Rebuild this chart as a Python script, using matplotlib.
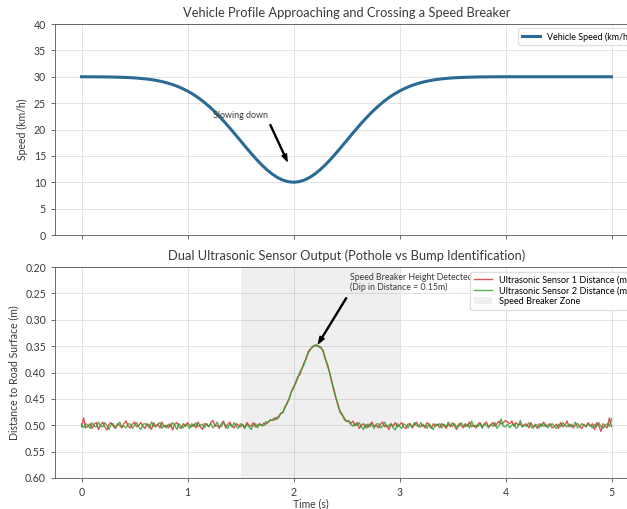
import matplotlib
matplotlib.use("Agg")
import matplotlib.pyplot as plt
import numpy as np

plt.rcParams['font.family'] = ['Lato', 'DejaVu Sans']

# ---------------- data ----------------
speed_time = [round(0.05 * i, 2) for i in range(101)]
speed_kmh = [
    30.00, 29.99, 29.99, 29.98, 29.97, 29.96, 29.94, 29.91, 29.88, 29.84,
    29.78, 29.70, 29.60, 29.48, 29.32, 29.12, 28.88, 28.58, 28.22, 27.79,
    27.29, 26.71, 26.04, 25.29, 24.44, 23.51, 22.49, 21.41, 20.26, 19.08,
    17.87, 16.66, 15.48, 14.35, 13.29, 12.35, 11.54, 10.88, 10.40, 10.10,
    10.00,
    10.10, 10.40, 10.88, 11.54, 12.35, 13.29, 14.35, 15.48, 16.66, 17.87,
    19.08, 20.26, 21.41, 22.49, 23.51, 24.44, 25.29, 26.04, 26.71, 27.29,
    27.79, 28.22, 28.58, 28.88, 29.12, 29.32, 29.48, 29.60, 29.70, 29.78,
    29.84, 29.88, 29.91, 29.94, 29.96, 29.97, 29.98, 29.99, 29.99, 30.00,
    30.00, 30.00, 30.00, 30.00, 30.00, 30.00, 30.00, 30.00, 30.00, 30.00,
    30.00, 30.00, 30.00, 30.00, 30.00, 30.00, 30.00, 30.00, 30.00, 30.00]

sensor_time = [round(0.02 * i, 2) for i in range(251)]

sensor1_mm = [
    503, 486, 505, 502, 497, 506, 498, 495, 508, 500,
    494, 503, 509, 498, 495, 502, 506, 497, 500, 505,
    497, 492, 502, 505, 498, 494, 503, 500, 495, 502,
    506, 497, 500, 508, 495, 502, 498, 505, 494, 503,
    500, 505, 497, 509, 498, 495, 503, 506, 497, 502,
    495, 500, 503, 498, 505, 494, 502, 508, 497, 498,
    503, 495, 491, 502, 500, 506, 497, 492, 505, 498,
    494, 502, 505, 497, 500, 503, 498, 506, 495, 500,
    502, 495, 503, 500, 497, 501, 496, 498, 494, 490,
    491, 486, 489, 483, 478, 476, 464, 459, 449, 436,
    430, 419, 408, 404, 393, 381, 374, 360, 355, 352,
    348, 350, 350, 352, 361, 375, 384, 400, 418, 430,
    449, 460, 476, 481, 486, 493, 491, 497, 492, 501,
    495, 506, 500, 497, 505, 498, 503, 494, 502, 500,
    505, 498, 494, 503, 500, 508, 497, 502, 495, 503,
    500, 495, 503, 506, 498, 497, 505, 500, 494, 502,
    503, 498, 505, 495, 500, 506, 497, 502, 498, 505,
    497, 500, 506, 498, 503, 495, 502, 508, 497, 500,
    505, 497, 502, 494, 503, 500, 505, 498, 495, 503,
    498, 494, 503, 500, 495, 502, 497, 492, 498, 495,
    491, 494, 497, 492, 502, 495, 500, 497, 503, 498,
    498, 505, 495, 503, 500, 506, 497, 502, 494, 503,
    500, 497, 505, 502, 498, 506, 495, 503, 500, 492,
    503, 498, 505, 500, 497, 502, 506, 498, 503, 495,
    502, 497, 508, 495, 500, 512, 497, 502, 505, 486,
    503]

sensor2_mm = [
    498, 505, 497, 500, 506, 495, 502, 503, 494, 502,
    503, 495, 500, 508, 498, 497, 505, 500, 494, 503,
    502, 505, 497, 498, 506, 500, 495, 503, 508, 498,
    497, 500, 505, 494, 502, 503, 498, 495, 506, 500,
    505, 498, 503, 495, 500, 508, 497, 502, 505, 498,
    500, 506, 497, 502, 495, 503, 500, 498, 505, 497,
    502, 497, 505, 500, 494, 503, 502, 495, 500, 506,
    498, 503, 495, 502, 506, 497, 500, 505, 498, 503,
    508, 500, 497, 505, 498, 500, 501, 493, 495, 490,
    490, 490, 485, 486, 477, 475, 467, 457, 449, 437,
    427, 421, 411, 399, 392, 385, 371, 363, 357, 350,
    350, 347, 352, 354, 358, 373, 387, 399, 416, 435,
    447, 464, 473, 479, 490, 492, 493, 498, 502, 497,
    500, 495, 503, 508, 498, 505, 497, 500, 506, 498,
    497, 505, 502, 494, 503, 500, 498, 505, 509, 497,
    502, 506, 497, 500, 505, 498, 503, 495, 500, 503,
    495, 502, 500, 506, 497, 503, 508, 498, 500, 497,
    505, 498, 503, 494, 500, 502, 497, 505, 502, 495,
    500, 503, 498, 505, 492, 502, 500, 503, 497, 506,
    497, 500, 505, 498, 502, 495, 506, 500, 488, 502,
    503, 498, 505, 500, 497, 506, 502, 491, 503, 500,
    502, 495, 503, 506, 498, 500, 505, 497, 502, 498,
    505, 500, 497, 502, 506, 498, 503, 495, 500, 503,
    498, 503, 500, 494, 505, 502, 497, 500, 503, 498,
    500, 505, 498, 503, 495, 502, 506, 500, 497, 502,
    488]

zone_start, zone_end = 1.5, 3.0
speed_ticks = [0, 5, 10, 15, 20, 25, 30, 35, 40]
dist_ticks = [0.20, 0.25, 0.30, 0.35, 0.40, 0.45, 0.50, 0.55, 0.60]
time_ticks = [0, 1, 2, 3, 4, 5]

sensor1_m = np.array(sensor1_mm) / 1000.0
sensor2_m = np.array(sensor2_mm) / 1000.0

# ---------------- figure ----------------
W, H = 627, 509
fig = plt.figure(figsize=(W / 100, H / 100), dpi=100)
left = 55 / W
width = 583 / W
ax1 = fig.add_axes([left, 1 - 235 / H, width, 211 / H])
ax2 = fig.add_axes([left, 1 - 478 / H, width, 211 / H])

spine_col = '#555555'
grid_col = '#e3e3e3'
txt_col = '#3a3a3a'
tick_fs = 7.6

for ax in (ax1, ax2):
    ax.grid(True, color=grid_col, linewidth=0.7)
    ax.set_axisbelow(True)
    for s in ax.spines.values():
        s.set_color(spine_col)
        s.set_linewidth(0.6)
    ax.tick_params(colors=txt_col, labelsize=tick_fs, width=0.6, length=3,
                   color=spine_col)
    ax.set_xlim(-0.25, 5.25)
    ax.set_xticks(time_ticks)

# top: speed
ax1.plot(speed_time, speed_kmh, color='#2b6a94', linewidth=2.2,
         label='Vehicle Speed (km/h)')
ax1.set_ylim(0, 40)
ax1.set_yticks(speed_ticks)
ax1.set_xticklabels([])
ax1.set_ylabel('Speed (km/h)', fontsize=7.6, color=txt_col)
ax1.set_title('Vehicle Profile Approaching and Crossing a Speed Breaker',
              fontsize=9.3, color=txt_col, pad=5)
ax1.annotate('Slowing down', xy=(1.95, 13.6), xytext=(1.24, 22.7),
             fontsize=6.4, color=txt_col, va='center', ha='left',
             arrowprops=dict(facecolor='black', edgecolor='black', shrink=0.05,
                             width=0.7, headwidth=3.5, headlength=5))
ax1.legend(loc='upper right', fontsize=6.4, frameon=True, framealpha=0.9,
           edgecolor='#dddddd', fancybox=True, handlelength=2.0)

# bottom: sensors
ax2.axvspan(zone_start, zone_end, color='#808080', alpha=0.12, linewidth=0,
            label='Speed Breaker Zone')
ax2.plot(sensor_time, sensor1_m, color='#d62728', linewidth=1.0, alpha=0.8,
         label='Ultrasonic Sensor 1 Distance (m)')
ax2.plot(sensor_time, sensor2_m, color='#2ca02c', linewidth=1.0, alpha=0.8,
         label='Ultrasonic Sensor 2 Distance (m)')
ax2.set_ylim(0.60, 0.20)
ax2.set_yticks(dist_ticks)
ax2.set_yticklabels([f'{v:.2f}' for v in dist_ticks])
ax2.set_xticklabels([str(t) for t in time_ticks])
ax2.set_ylabel('Distance to Road Surface (m)', fontsize=7.6, color=txt_col)
ax2.set_xlabel('Time (s)', fontsize=7.6, color=txt_col)
ax2.xaxis.set_label_coords((311 - 55) / 583, -0.095)
ax2.set_title('Dual Ultrasonic Sensor Output (Pothole vs Bump Identification)',
              fontsize=9.3, color=txt_col, pad=5)
ax2.annotate('Speed Breaker Height Detected\n(Dip in Distance = 0.15m)',
             xy=(2.22, 0.35), xytext=(2.53, 0.230),
             fontsize=6.3, color=txt_col, va='center', ha='left',
             linespacing=1.1,
             arrowprops=dict(facecolor='black', edgecolor='black', shrink=0.05,
                             width=0.7, headwidth=3.5, headlength=5))
h, l = ax2.get_legend_handles_labels()
order = [1, 2, 0]
leg = ax2.legend([h[i] for i in order], [l[i] for i in order], loc='upper right',
                 fontsize=6.6, frameon=True, framealpha=0.9, edgecolor='#dddddd',
                 labelspacing=0.2, handlelength=2.0)
leg.set_zorder(10)

fig.savefig('out.png', dpi=100)
